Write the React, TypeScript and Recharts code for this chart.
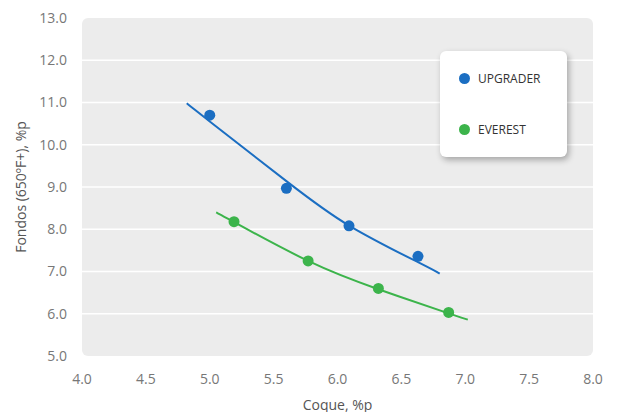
import React from "react";
import {
  ComposedChart,
  Legend,
  Line,
  ReferenceArea,
  ReferenceLine,
  Scatter,
  XAxis,
  YAxis,
} from "recharts";

const xTicks = [4.0, 4.5, 5.0, 5.5, 6.0, 6.5, 7.0, 7.5, 8.0];
const yTicks = [5.0, 6.0, 7.0, 8.0, 9.0, 10.0, 11.0, 12.0, 13.0];

// measured points
const upgraderPoints = [
  { x: 5.0, y: 10.7 },
  { x: 5.6, y: 8.97 },
  { x: 6.09, y: 8.08 },
  { x: 6.63, y: 7.36 },
];
const everestPoints = [
  { x: 5.19, y: 8.18 },
  { x: 5.77, y: 7.25 },
  { x: 6.32, y: 6.6 },
  { x: 6.87, y: 6.03 },
];

// trend curves
const upgraderTrend = [
  { x: 4.82, y: 10.98 },
  { x: 5.0, y: 10.55 },
  { x: 5.6, y: 9.14 },
  { x: 6.1, y: 8.07 },
  { x: 6.63, y: 7.22 },
  { x: 6.8, y: 6.95 },
];
const everestTrend = [
  { x: 5.05, y: 8.4 },
  { x: 5.19, y: 8.17 },
  { x: 5.77, y: 7.25 },
  { x: 6.32, y: 6.58 },
  { x: 6.87, y: 6.01 },
  { x: 7.02, y: 5.86 },
];

const BLUE = "#1b6ec2";
const GREEN = "#3cb44b";
const FONT = "'Open Sans', sans-serif";

const series = [
  { name: "UPGRADER", color: BLUE },
  { name: "EVEREST", color: GREEN },
];

const dot = (color: string) => (props: any) =>
  <circle cx={props.cx} cy={props.cy} r={5.5} fill={color} />;

const LegendBox = () => (
  <div
    style={{
      width: 127,
      height: 106,
      background: "#fff",
      borderRadius: 6,
      boxShadow: "2px 3px 6px rgba(0,0,0,0.3)",
      fontFamily: FONT,
      fontSize: 12,
      color: "#333",
      position: "relative",
    }}
  >
    {series.map((s, i) => (
      <div
        key={s.name}
        style={{
          position: "absolute",
          left: 19,
          top: 19 + i * 51,
          display: "flex",
          alignItems: "center",
          height: 16,
        }}
      >
        <span
          style={{
            width: 11,
            height: 11,
            borderRadius: "50%",
            background: s.color,
            display: "inline-block",
            marginRight: 8,
          }}
        />
        {s.name}
      </div>
    ))}
  </div>
);

const YTitle = ({ viewBox }: any) => {
  const cx = 20;
  const cy = viewBox.y + viewBox.height / 2;
  return (
    <text
      x={cx}
      y={cy}
      transform={`rotate(-90, ${cx}, ${cy})`}
      textAnchor="middle"
      dominantBaseline="central"
      fill="#555"
      fontSize={14}
      fontFamily={FONT}
    >
      Fondos (650ºF+), %p
    </text>
  );
};

const XTitle = ({ viewBox }: any) => (
  <text
    x={viewBox.x + viewBox.width / 2}
    y={404}
    textAnchor="middle"
    dominantBaseline="central"
    fill="#555"
    fontSize={14}
    fontFamily={FONT}
  >
    Coque, %p
  </text>
);

export default function App() {
  return (
    <div style={{ position: "absolute", left: 0, top: 0, background: "#fff" }}>
      <ComposedChart
        width={617}
        height={412}
        margin={{ top: 18, right: 24, left: 0, bottom: 0 }}
      >
        <ReferenceArea
          x1={4}
          x2={8}
          y1={5}
          y2={13}
          fill="#ececec"
          fillOpacity={1}
          stroke="none"
          radius={6}
        />
        {yTicks.slice(1, -1).map((v) => (
          <ReferenceLine key={v} y={v} stroke="#ffffff" strokeWidth={1.5} />
        ))}
        <XAxis
          type="number"
          dataKey="x"
          domain={[4, 8]}
          ticks={xTicks}
          tickFormatter={(v: number) => v.toFixed(1)}
          axisLine={false}
          tickLine={false}
          tickMargin={12}
          height={56}
          tick={{ fill: "#777", fontSize: 14, fontFamily: FONT }}
          label={{ content: XTitle }}
        />
        <YAxis
          type="number"
          dataKey="y"
          domain={[5, 13]}
          ticks={yTicks}
          tickFormatter={(v: number) => v.toFixed(1)}
          axisLine={false}
          tickLine={false}
          tickMargin={9}
          width={82}
          tick={{ fill: "#777", fontSize: 14, fontFamily: FONT }}
          label={{ content: YTitle }}
        />
        <Line
          data={upgraderTrend}
          dataKey="y"
          type="natural"
          stroke={BLUE}
          strokeWidth={2}
          dot={false}
          activeDot={false}
          legendType="none"
          isAnimationActive={false}
        />
        <Line
          data={everestTrend}
          dataKey="y"
          type="natural"
          stroke={GREEN}
          strokeWidth={2}
          dot={false}
          activeDot={false}
          legendType="none"
          isAnimationActive={false}
        />
        <Scatter
          name="UPGRADER"
          data={upgraderPoints}
          fill={BLUE}
          shape={dot(BLUE)}
          isAnimationActive={false}
        />
        <Scatter
          name="EVEREST"
          data={everestPoints}
          fill={GREEN}
          shape={dot(GREEN)}
          isAnimationActive={false}
        />
        <Legend
          layout="horizontal"
          verticalAlign="middle"
          align="center"
          content={LegendBox}
          wrapperStyle={{ left: 440, top: 51, width: 127, height: 106 }}
        />
      </ComposedChart>
    </div>
  );
}
